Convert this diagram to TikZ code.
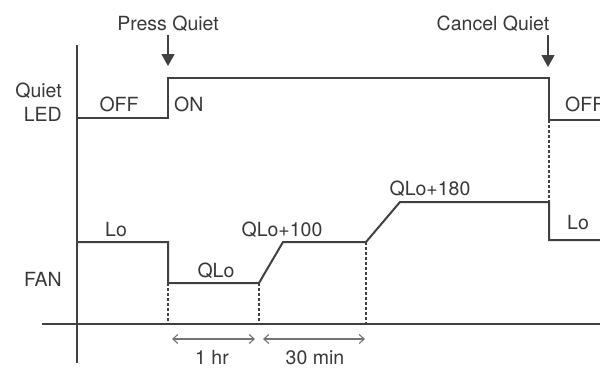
\documentclass[tikz,border=0pt]{standalone}
\usepackage{fontspec}
\setmainfont{TeX Gyre Heros}
\usetikzlibrary{arrows.meta}
\definecolor{linec}{gray}{0.25}
\definecolor{textc}{gray}{0.22}
\definecolor{dimc}{gray}{0.45}
\begin{document}
\begin{tikzpicture}[x=1pt,y=-1pt,
  wave/.style={line width=2pt, draw=linec, line join=miter},
  axisline/.style={line width=2pt, draw=linec},
  guide/.style={line width=1.8pt, draw=linec, dash pattern=on 2.5pt off 2.5pt},
  evtarrow/.style={line width=1.6pt, draw=linec, -{Triangle[length=12pt,width=13pt]}},
  dimarrow/.style={line width=1.1pt, draw=dimc, {Straight Barb[length=5pt,width=9pt]}-{Straight Barb[length=5pt,width=9pt]}},
  lbl/.style={text=textc, font=\fontsize{19.5}{22}\selectfont, inner sep=0pt, anchor=base}]
\useasboundingbox (0,0) rectangle (600,367);
% axes
\coordinate (vtop) at (77,45);
\coordinate (vbot) at (77,363);
\coordinate (hleft) at (42,324);
\coordinate (hright) at (600,324);
\draw[axisline] (vtop) -- (vbot);
\draw[axisline] (hleft) -- (hright);
% LED waveform
\coordinate (l0) at (77,118);
\coordinate (l1) at (168,118);
\coordinate (l2) at (168,78);
\coordinate (l3) at (549,78);
\coordinate (l4) at (549,120);
\coordinate (l5) at (600,120);
\draw[wave] (l0) -- (l1) -- (l2) -- (l3) -- (l4) -- (l5);
% FAN waveform
\coordinate (f0) at (77,242);
\coordinate (f1) at (168,242);
\coordinate (f2) at (168,283);
\coordinate (f3) at (259,283);
\coordinate (f4) at (283,242);
\coordinate (f5) at (366,242);
\coordinate (f6) at (400,202);
\coordinate (f7) at (549,202);
\coordinate (f8) at (549,240);
\coordinate (f9) at (600,240);
\draw[wave] (f0) -- (f1) -- (f2) -- (f3) -- (f4) -- (f5) -- (f6) -- (f7) -- (f8) -- (f9);
% guides
\coordinate (g1) at (168,324);
\coordinate (g2) at (259,324);
\coordinate (g3) at (366,324);
\draw[guide] (f2) -- (g1);
\draw[guide] (f3) -- (g2);
\draw[guide] (f5) -- (g3);
\draw[guide] (l4) -- (f7);
% event arrows
\coordinate (pa0) at (168,35);
\coordinate (pa1) at (168,66);
\coordinate (ca0) at (548,35);
\coordinate (ca1) at (548,67);
\draw[evtarrow] (pa0) -- (pa1);
\draw[evtarrow] (ca0) -- (ca1);
% dimension arrows
\coordinate (d1a) at (172,339);
\coordinate (d1b) at (255,339);
\coordinate (d2a) at (263,339);
\coordinate (d2b) at (365,339);
\draw[dimarrow] (d1a) -- (d1b);
\draw[dimarrow] (d2a) -- (d2b);
% labels
\node[lbl] (press) at (168,30) {Press Quiet};
\node[lbl] (cancel) at (493,30) {Cancel Quiet};
\node[lbl, anchor=base east] (quiet) at (62,97) {Quiet};
\node[lbl, anchor=base east] (led) at (62,121) {LED};
\node[lbl] (off1) at (119,111) {OFF};
\node[lbl, anchor=base west] (on) at (174,111) {ON};
\node[lbl, anchor=base west] (off2) at (565,111) {OFF};
\node[lbl] (lo1) at (116,236) {Lo};
\node[lbl] (qlo) at (216,277) {QLo};
\node[lbl] (qlo100) at (282,236) {QLo+100};
\node[lbl] (qlo180) at (430,195) {QLo+180};
\node[lbl, anchor=base west] (lo2) at (567,229) {Lo};
\node[lbl, anchor=base east] (fan) at (62,286) {FAN};
\node[lbl] (hr) at (212,364) {1 hr};
\node[lbl] (min) at (315,364) {30 min};
\end{tikzpicture}
\end{document}
